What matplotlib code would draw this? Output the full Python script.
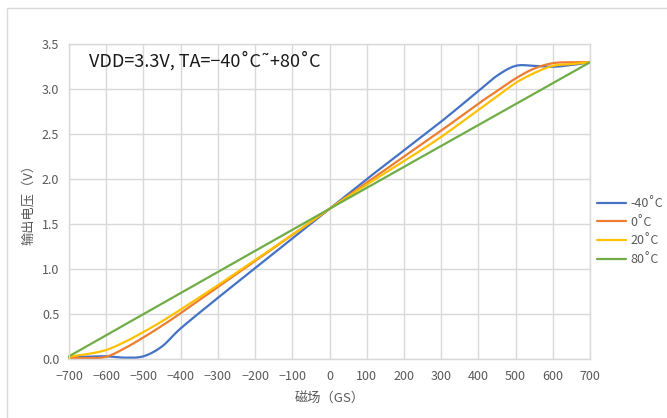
import numpy as np
import matplotlib
matplotlib.use("Agg")
import matplotlib.pyplot as plt
from matplotlib.patches import Rectangle

plt.rcParams['font.family'] = ['Noto Sans CJK SC', 'DejaVu Sans']

# ---- data ----
field_gs = [-700, -650, -600, -550, -500, -450, -400, -300, -200, -100, 0,
            100, 200, 300, 400, 450, 500, 550, 600, 650, 700]
out_m40 = [0.02, 0.025, 0.03, 0.015, 0.03, 0.14, 0.34, 0.68, 1.01, 1.34, 1.67,
           2.00, 2.32, 2.64, 2.98, 3.15, 3.26, 3.26, 3.25, 3.27, 3.30]
out_0 = [0.01, 0.01, 0.025, 0.12, 0.24, 0.37, 0.51, 0.80, 1.09, 1.38, 1.67,
         1.96, 2.25, 2.54, 2.84, 2.98, 3.12, 3.23, 3.29, 3.30, 3.30]
out_20 = [0.025, 0.055, 0.10, 0.19, 0.30, 0.42, 0.55, 0.82, 1.10, 1.38, 1.67,
          1.94, 2.20, 2.47, 2.77, 2.92, 3.07, 3.18, 3.26, 3.28, 3.30]
field_gs_80 = [-700, 0, 700]
out_80 = [0.03, 1.67, 3.30]

labels = ['-40˚C', '0˚C', '20˚C', '80˚C']
colors = ['#4472C4', '#ED7D31', '#FFC000', '#70AD47']
x_ticks = list(range(-700, 701, 100))
y_ticks = [0.0, 0.5, 1.0, 1.5, 2.0, 2.5, 3.0, 3.5]
title_text = 'VDD=3.3V, TA=−40˚C˜+80˚C'


def smooth(x, y, n=20):
    """Catmull-Rom smoothing (like Excel smoothed lines)."""
    x = np.asarray(x, float)
    y = np.asarray(y, float)
    P = np.column_stack([x, y])
    P = np.vstack([P[0] * 2 - P[1], P, P[-1] * 2 - P[-2]])
    out = []
    t = np.linspace(0, 1, n, endpoint=False)[:, None]
    for i in range(1, len(P) - 2):
        p0, p1, p2, p3 = P[i - 1], P[i], P[i + 1], P[i + 2]
        seg = 0.5 * ((2 * p1) + (-p0 + p2) * t + (2 * p0 - 5 * p1 + 4 * p2 - p3) * t ** 2
                     + (-p0 + 3 * p1 - 3 * p2 + p3) * t ** 3)
        out.append(seg)
    out.append(P[-2][None, :])
    S = np.vstack(out)
    return S[:, 0], S[:, 1]


W, H = 667, 418
fig = plt.figure(figsize=(W / 100, H / 100), dpi=100)
fig.patch.set_facecolor('white')

# outer frame
fig.patches.append(Rectangle((7 / W, -0.1), 1.2, 1 - 8 / H + 0.1, transform=fig.transFigure,
                             fill=False, edgecolor='#d9d9d9', linewidth=1.0))

ax = fig.add_axes([69 / W, 1 - 359 / H, (590 - 69) / W, (359 - 44.3) / H])
ax.set_xlim(-700, 700)
ax.set_ylim(0, 3.5)
ax.set_xticks(x_ticks)
ax.set_yticks(y_ticks)
ax.set_xticklabels([str(v).replace('-', '−') for v in x_ticks])
ax.set_yticklabels([f'{v:.1f}' for v in y_ticks])
ax.grid(True, color='#d9d9d9', linewidth=1.0)
ax.set_axisbelow(True)
for s in ax.spines.values():
    s.set_color('#d9d9d9')
    s.set_linewidth(1.0)
ax.tick_params(axis='x', length=0, labelsize=9, colors='#595959', pad=8)
ax.tick_params(axis='y', length=0, labelsize=9, colors='#595959', pad=7)

series = [(field_gs, out_m40), (field_gs, out_0), (field_gs, out_20), (field_gs_80, out_80)]
handles = []
for (xs, ys), c, lab in zip(series, colors, labels):
    sx, sy = smooth(xs, ys)
    h, = ax.plot(sx, sy, color=c, linewidth=1.6, label=lab, clip_on=False,
                 solid_capstyle='round')
    handles.append(h)

ax.text(-645, 3.32, title_text, fontsize=13, color='#1a1a1a', va='center', ha='left')

ax.set_xlabel('磁场（GS）', fontsize=9.5, color='#595959', labelpad=7)
ax.set_ylabel('输出电压（V）', fontsize=9.5, color='#595959', labelpad=5)

leg = fig.legend(handles=handles, labels=labels, loc='upper left',
                 bbox_to_anchor=(592 / W, 1 - 192 / H), frameon=False,
                 fontsize=9, handlelength=2.3, handletextpad=0.4, labelspacing=0.45,
                 borderaxespad=0)
for t in leg.get_texts():
    t.set_color('#595959')

fig.savefig('out.png', dpi=100)
